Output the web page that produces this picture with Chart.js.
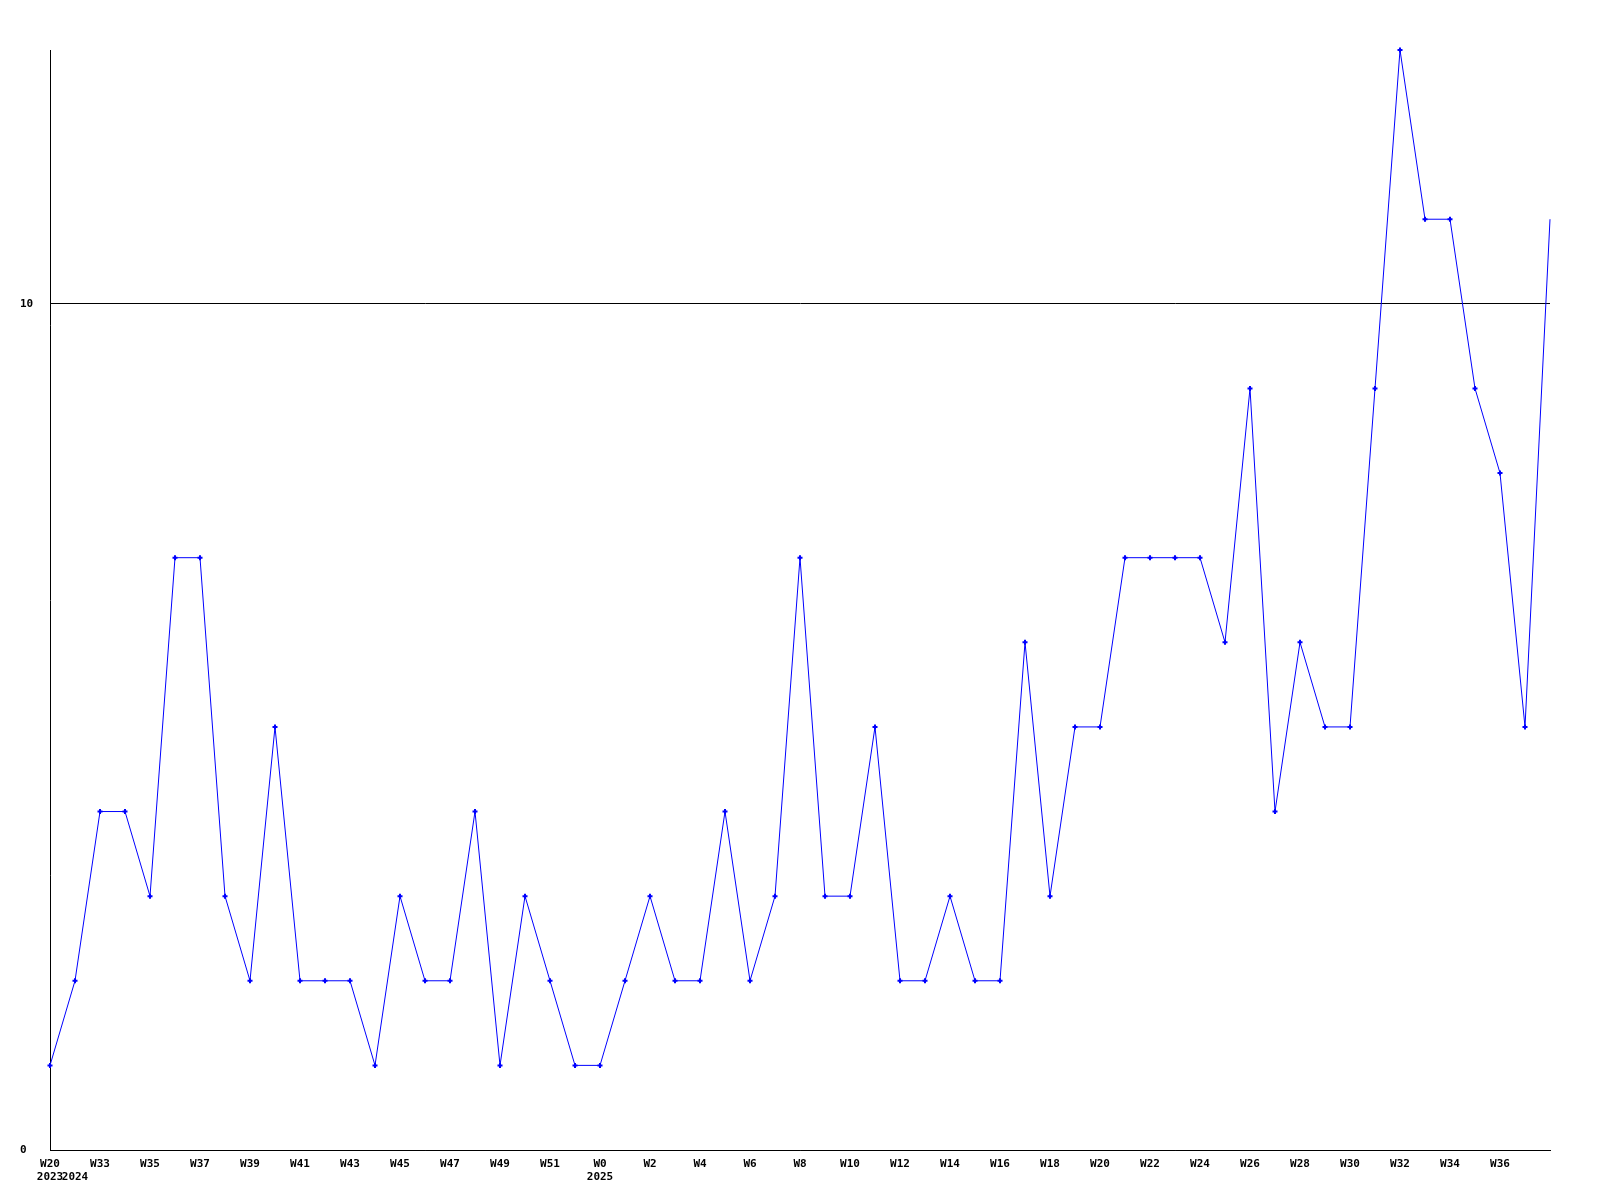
<!DOCTYPE html>
<html>
<head>
<meta charset="utf-8">
<title>Weekly chart</title>
<script src="https://cdn.jsdelivr.net/npm/chart.js@4.4.1/dist/chart.umd.min.js"></script>
<style>
  body { margin: 0; background: #fff; }
  canvas { display: block; }
</style>
</head>
<body>
<canvas id="week-chart" width="1600" height="1200"></canvas>
<script>
// week labels, one per point
const weeks = [
  'W20',
  'W32', 'W33', 'W34', 'W35', 'W36', 'W37', 'W38', 'W39', 'W40', 'W41', 'W42',
  'W43', 'W44', 'W45', 'W46', 'W47', 'W48', 'W49', 'W50', 'W51', 'W52',
  'W0', 'W1', 'W2', 'W3', 'W4', 'W5', 'W6', 'W7', 'W8', 'W9', 'W10', 'W11',
  'W12', 'W13', 'W14', 'W15', 'W16', 'W17', 'W18', 'W19', 'W20', 'W21', 'W22',
  'W23', 'W24', 'W25', 'W26', 'W27', 'W28', 'W29', 'W30', 'W31', 'W32', 'W33',
  'W34', 'W35', 'W36', 'W37', 'W38'
];

const years = [
  2023,
  2024, 2024, 2024, 2024, 2024, 2024, 2024, 2024, 2024, 2024, 2024,
  2024, 2024, 2024, 2024, 2024, 2024, 2024, 2024, 2024, 2024,
  2025, 2025, 2025, 2025, 2025, 2025, 2025, 2025, 2025, 2025, 2025, 2025,
  2025, 2025, 2025, 2025, 2025, 2025, 2025, 2025, 2025, 2025, 2025,
  2025, 2025, 2025, 2025, 2025, 2025, 2025, 2025, 2025, 2025, 2025,
  2025, 2025, 2025, 2025, 2025
];

const counts = [
  1,
  2, 4, 4, 3, 7, 7, 3, 2, 5, 2, 2,
  2, 1, 3, 2, 2, 4, 1, 3, 2, 1,
  1, 2, 3, 2, 2, 4, 2, 3, 7, 3, 3, 5,
  2, 2, 3, 2, 2, 6, 3, 5, 5, 7, 7,
  7, 7, 6, 9, 4, 6, 5, 5, 9, 13, 11,
  11, 9, 8, 5, 11
];

const yTicks = [0, 10];
const yMax = 13;

const labelFont = { family: '"DejaVu Sans Mono", monospace', size: 11, weight: 'bold', lineHeight: 1.25 };

new Chart(document.getElementById('week-chart'), {
  type: 'line',
  data: {
    labels: weeks,
    datasets: [{
      data: counts,
      borderColor: '#0000ff',
      backgroundColor: '#0000ff',
      borderWidth: 1,
      pointStyle: 'cross',
      // last point sits on the right edge with no marker
      pointRadius: ctx => ctx.dataIndex === counts.length - 1 ? 0 : 2.5,
      pointBorderWidth: 2,
      tension: 0,
      clip: false
    }]
  },
  options: {
    responsive: false,
    animation: false,
    layout: { padding: { left: 20, right: 50, top: 50, bottom: 0 } },
    plugins: {
      legend: { display: false },
      tooltip: { enabled: false }
    },
    scales: {
      x: {
        offset: false,
        grid: { display: false, drawTicks: false },
        border: { display: true, color: '#000', width: 1 },
        afterFit: scale => { scale.height = 50; },
        ticks: {
          autoSkip: false,
          maxRotation: 0,
          minRotation: 0,
          padding: 7,
          color: '#000',
          font: labelFont,
          callback: function (val, i) {
            const wk = (i % 2 === 0 && i < weeks.length - 1) ? weeks[i] : '';
            const newYear = i === 0 || years[i] !== years[i - 1];
            if (newYear) return [wk, String(years[i])];
            return wk;
          }
        }
      },
      y: {
        min: 0,
        max: yMax,
        grid: { color: '#000', lineWidth: 1, drawTicks: false },
        border: { display: true, color: '#000', width: 1 },
        afterFit: scale => { scale.width = 30; },
        afterBuildTicks: scale => { scale.ticks = yTicks.map(v => ({ value: v })); },
        ticks: {
          crossAlign: 'far',
          padding: 0,
          color: '#000',
          font: labelFont
        }
      }
    }
  }
});
</script>
</body>
</html>
